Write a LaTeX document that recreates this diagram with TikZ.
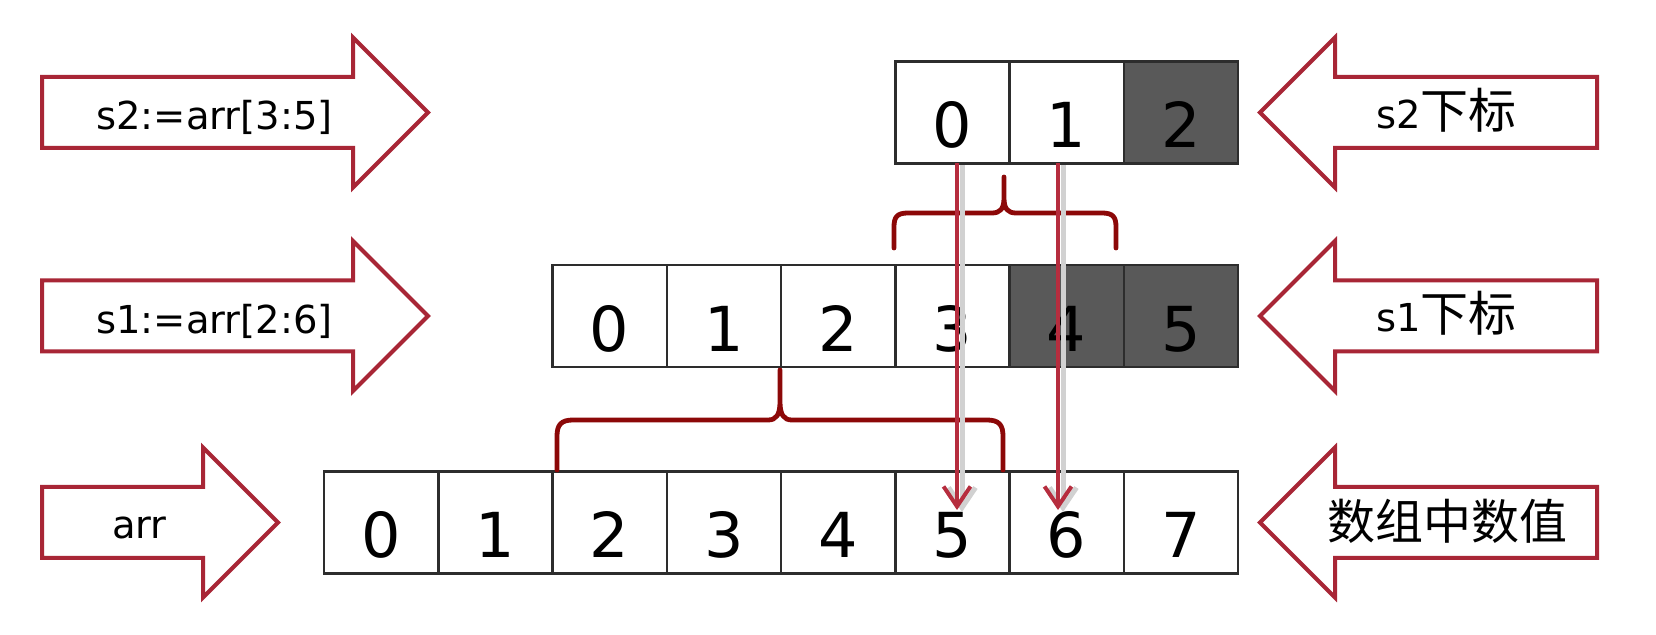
\documentclass[tikz,border=0pt]{standalone}
\usepackage{fontspec}
\setmainfont{DejaVu Sans}
\newfontfamily\cjk{Noto Sans CJK SC}
\usetikzlibrary{arrows.meta}
\definecolor{boxred}{RGB}{168,38,54}
\definecolor{bracered}{RGB}{140,8,8}
\definecolor{linered}{RGB}{182,45,62}
\definecolor{cellgray}{RGB}{89,89,89}
\definecolor{cellline}{RGB}{45,45,45}
\newcommand\cjkbig{\cjk\fontsize{24pt}{28pt}\selectfont}
\begin{document}
\begin{tikzpicture}[x=0.5pt,y=-0.5pt,
  cell/.style={draw=cellline, line width=1.25pt, inner sep=0pt, outer sep=0pt,
    minimum width=57.125pt, text height=43.25pt, text depth=7.75pt,
    font=\fontsize{31pt}{36pt}\selectfont},
  dark/.style={fill=cellgray},
  blockarrow/.style={draw=boxred, line width=2pt, line join=miter, fill=white},
  lab/.style={inner sep=0pt, anchor=base, font=\fontsize{19.25pt}{23pt}\selectfont},
  bracepath/.style={draw=bracered, line width=2.4pt, line cap=round, line join=round},
  vline/.style={draw=linered, line width=2pt, -{Straight Barb[length=10pt,width=13.5pt]},
    preaction={draw=black!18, line width=2.5pt, transform canvas={xshift=2.5pt,yshift=-1pt}}}
]
\useasboundingbox (0,0) rectangle (1656,635);

% left block arrows
\draw[blockarrow] (42,77) -- (353,77) -- (353,37.5) -- (428,112.5) -- (353,187.5) -- (353,148) -- (42,148) -- cycle;
\draw[blockarrow] (42,280.5) -- (353,280.5) -- (353,241) -- (428,316) -- (353,391) -- (353,351.5) -- (42,351.5) -- cycle;
\draw[blockarrow] (42,487) -- (203,487) -- (203,447.5) -- (278,522.5) -- (203,597.5) -- (203,558) -- (42,558) -- cycle;
% right block arrows
\draw[blockarrow] (1597,77) -- (1335,77) -- (1335,37.5) -- (1260,112.5) -- (1335,187.5) -- (1335,148) -- (1597,148) -- cycle;
\draw[blockarrow] (1597,280.5) -- (1335,280.5) -- (1335,241) -- (1260,316) -- (1335,391) -- (1335,351.5) -- (1597,351.5) -- cycle;
\draw[blockarrow] (1597,487) -- (1335,487) -- (1335,447.5) -- (1260,522.5) -- (1335,597.5) -- (1335,558) -- (1597,558) -- cycle;

% labels
\node[lab] (l2) at (214.5,130) {s2:=arr[3:5]};
\node[lab] (l1) at (214.5,333.5) {s1:=arr[2:6]};
\node[lab] (l0) at (139.5,539) {arr};
\node[lab] (r2) at (1446.5,128.5) {s2{\cjkbig 下标}};
\node[lab] (r1) at (1446.5,332) {s1{\cjkbig 下标}};
\node[lab] (r0) at (1447,540) {{\cjkbig 数组中数值}};

% arrays
\foreach \i in {0,...,7}
  \node[cell] (a\i) at ({324+114.25*(\i+0.5)},522.5) {\i};
\foreach \i/\s in {0/,1/,2/,3/,4/dark,5/dark}
  \node[cell,\s] (b\i) at ({552.5+114.25*(\i+0.5)},316) {\i};
\foreach \i/\s in {0/,1/,2/dark}
  \node[cell,\s] (c\i) at ({895.25+114.25*(\i+0.5)},112.5) {\i};

% braces
\draw[bracepath] (894,248) -- (894,227) .. controls (894,217) and (897,213) .. (908,213)
  -- (992,213) .. controls (1000,213) and (1004,209) .. (1004,198) -- (1004,177)
  -- (1004,198) .. controls (1004,209) and (1008,213) .. (1016,213)
  -- (1102,213) .. controls (1113,213) and (1116,217) .. (1116,227) -- (1116,248);
\draw[bracepath] (557,470) -- (557,436) .. controls (557,425) and (561,420) .. (573,420)
  -- (768,420) .. controls (776,420) and (780,415) .. (780,402) -- (780,370)
  -- (780,402) .. controls (780,415) and (784,420) .. (792,420)
  -- (987,420) .. controls (999,420) and (1003,425) .. (1003,436) -- (1003,470);

% vertical arrows
\coordinate (tipA) at (957,510);
\coordinate (tipB) at (1058,510);
\draw[vline] (c0.south -| tipA) -- (tipA);
\draw[vline] (c1.south -| tipB) -- (tipB);
\end{tikzpicture}
\end{document}
